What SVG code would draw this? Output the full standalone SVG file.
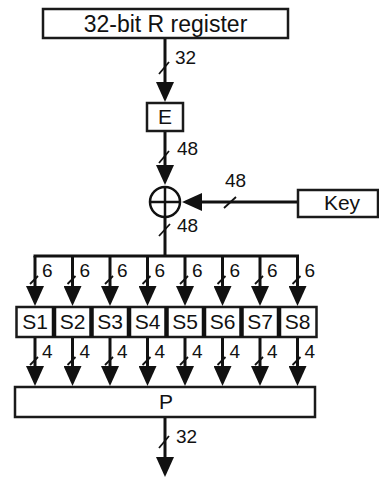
<svg xmlns="http://www.w3.org/2000/svg" width="379" height="477" viewBox="0 0 379 477">
<style>
.box{fill:#fff;stroke:#1a1a1a;stroke-width:2.5}
.t{font-family:"Liberation Sans",Arial,sans-serif;font-size:21px;fill:#111;text-anchor:middle}
.lbl{font-family:"Liberation Sans",Arial,sans-serif;font-size:19px;fill:#111}
.w{fill:none;stroke:#111;stroke-width:3}
.sl{fill:none;stroke:#111;stroke-width:1.8}
</style>
<defs>
<marker id="ah" markerUnits="userSpaceOnUse" markerWidth="20" markerHeight="18" refX="10" refY="9" orient="auto" viewBox="0 0 20 18">
<path d="M0,0 L20,9 L0,18 z" fill="#111"/>
</marker>
</defs>
<rect width="379" height="477" fill="#fff"/>
<g id="connectors">
<line class="w" x1="165" y1="38" x2="165" y2="92" marker-end="url(#ah)"/>
<line class="w" x1="165" y1="131" x2="165" y2="175" marker-end="url(#ah)"/>
<line class="w" x1="298" y1="202" x2="192" y2="202" marker-end="url(#ah)"/>
<line class="w" x1="165" y1="217" x2="165" y2="256"/>
<line class="w" x1="33.5" y1="256" x2="299" y2="256"/>
<g id="bus-drops">
<line class="w" x1="35" y1="256" x2="35" y2="296" marker-end="url(#ah)"/>
<line class="w" x1="72.5" y1="256" x2="72.5" y2="296" marker-end="url(#ah)"/>
<line class="w" x1="110" y1="256" x2="110" y2="296" marker-end="url(#ah)"/>
<line class="w" x1="147.5" y1="256" x2="147.5" y2="296" marker-end="url(#ah)"/>
<line class="w" x1="185" y1="256" x2="185" y2="296" marker-end="url(#ah)"/>
<line class="w" x1="222.5" y1="256" x2="222.5" y2="296" marker-end="url(#ah)"/>
<line class="w" x1="260" y1="256" x2="260" y2="296" marker-end="url(#ah)"/>
<line class="w" x1="297.5" y1="256" x2="297.5" y2="296" marker-end="url(#ah)"/>
</g>
<g id="sbox-outputs">
<line class="w" x1="35" y1="337" x2="35" y2="376" marker-end="url(#ah)"/>
<line class="w" x1="72.5" y1="337" x2="72.5" y2="376" marker-end="url(#ah)"/>
<line class="w" x1="110" y1="337" x2="110" y2="376" marker-end="url(#ah)"/>
<line class="w" x1="147.5" y1="337" x2="147.5" y2="376" marker-end="url(#ah)"/>
<line class="w" x1="185" y1="337" x2="185" y2="376" marker-end="url(#ah)"/>
<line class="w" x1="222.5" y1="337" x2="222.5" y2="376" marker-end="url(#ah)"/>
<line class="w" x1="260" y1="337" x2="260" y2="376" marker-end="url(#ah)"/>
<line class="w" x1="297.5" y1="337" x2="297.5" y2="376" marker-end="url(#ah)"/>
</g>
<line class="w" x1="165" y1="417" x2="165" y2="467" marker-end="url(#ah)"/>
<g id="widths">
<path class="sl" d="M159,74 L169,62"/>
<text class="lbl" x="175" y="64">32</text>
<path class="sl" d="M159,163 L169,151"/>
<text class="lbl" x="177" y="155">48</text>
<path class="sl" d="M224,208 L236,197"/>
<text class="lbl" x="225" y="187">48</text>
<path class="sl" d="M159,236 L170,224"/>
<text class="lbl" x="177" y="232">48</text>
<path class="sl" d="M30,284 L38,276"/><text class="lbl" x="42" y="277">6</text>
<path class="sl" d="M67.5,284 L75.5,276"/><text class="lbl" x="79.5" y="277">6</text>
<path class="sl" d="M105,284 L113,276"/><text class="lbl" x="117" y="277">6</text>
<path class="sl" d="M142.5,284 L150.5,276"/><text class="lbl" x="154.5" y="277">6</text>
<path class="sl" d="M180,284 L188,276"/><text class="lbl" x="192" y="277">6</text>
<path class="sl" d="M217.5,284 L225.5,276"/><text class="lbl" x="229.5" y="277">6</text>
<path class="sl" d="M255,284 L263,276"/><text class="lbl" x="267" y="277">6</text>
<path class="sl" d="M292.5,284 L300.5,276"/><text class="lbl" x="304.5" y="277">6</text>
<path class="sl" d="M30,365 L38,357"/><text class="lbl" x="42" y="358">4</text>
<path class="sl" d="M67.5,365 L75.5,357"/><text class="lbl" x="79.5" y="358">4</text>
<path class="sl" d="M105,365 L113,357"/><text class="lbl" x="117" y="358">4</text>
<path class="sl" d="M142.5,365 L150.5,357"/><text class="lbl" x="154.5" y="358">4</text>
<path class="sl" d="M180,365 L188,357"/><text class="lbl" x="192" y="358">4</text>
<path class="sl" d="M217.5,365 L225.5,357"/><text class="lbl" x="229.5" y="358">4</text>
<path class="sl" d="M255,365 L263,357"/><text class="lbl" x="267" y="358">4</text>
<path class="sl" d="M292.5,365 L300.5,357"/><text class="lbl" x="304.5" y="358">4</text>
<path class="sl" d="M159,448 L169,436"/>
<text class="lbl" x="176" y="443">32</text>
</g>
</g>
<g id="r-register">
<rect class="box" x="43" y="9" width="245" height="29"/>
<text class="t" x="165.5" y="32" style="font-size:23px">32-bit R register</text>
</g>
<g id="e-box">
<rect class="box" x="147" y="103" width="36" height="28"/>
<text class="t" x="165" y="124">E</text>
</g>
<g id="xor">
<circle cx="165" cy="202" r="15" fill="#fff" stroke="#111" stroke-width="2.5"/>
<path d="M150,202 H180 M165,187 V217" stroke="#111" stroke-width="2.5"/>
</g>
<g id="key">
<rect class="box" x="298" y="190" width="80" height="27"/>
<text class="t" x="342" y="210">Key</text>
</g>
<g id="sboxes">
<rect class="box" x="16.5" y="307" width="300" height="30"/>
<path d="M54,307 V337 M91.5,307 V337 M129,307 V337 M166.5,307 V337 M204,307 V337 M241.5,307 V337 M279,307 V337" stroke="#111" stroke-width="4.5"/>
<g id="S1"><text class="t" x="35" y="329">S1</text></g>
<g id="S2"><text class="t" x="72.5" y="329">S2</text></g>
<g id="S3"><text class="t" x="110" y="329">S3</text></g>
<g id="S4"><text class="t" x="147.5" y="329">S4</text></g>
<g id="S5"><text class="t" x="185" y="329">S5</text></g>
<g id="S6"><text class="t" x="222.5" y="329">S6</text></g>
<g id="S7"><text class="t" x="260" y="329">S7</text></g>
<g id="S8"><text class="t" x="297.5" y="329">S8</text></g>
</g>
<g id="p-box">
<rect class="box" x="15" y="387" width="300" height="30"/>
<text class="t" x="166" y="409">P</text>
</g>
</svg>
